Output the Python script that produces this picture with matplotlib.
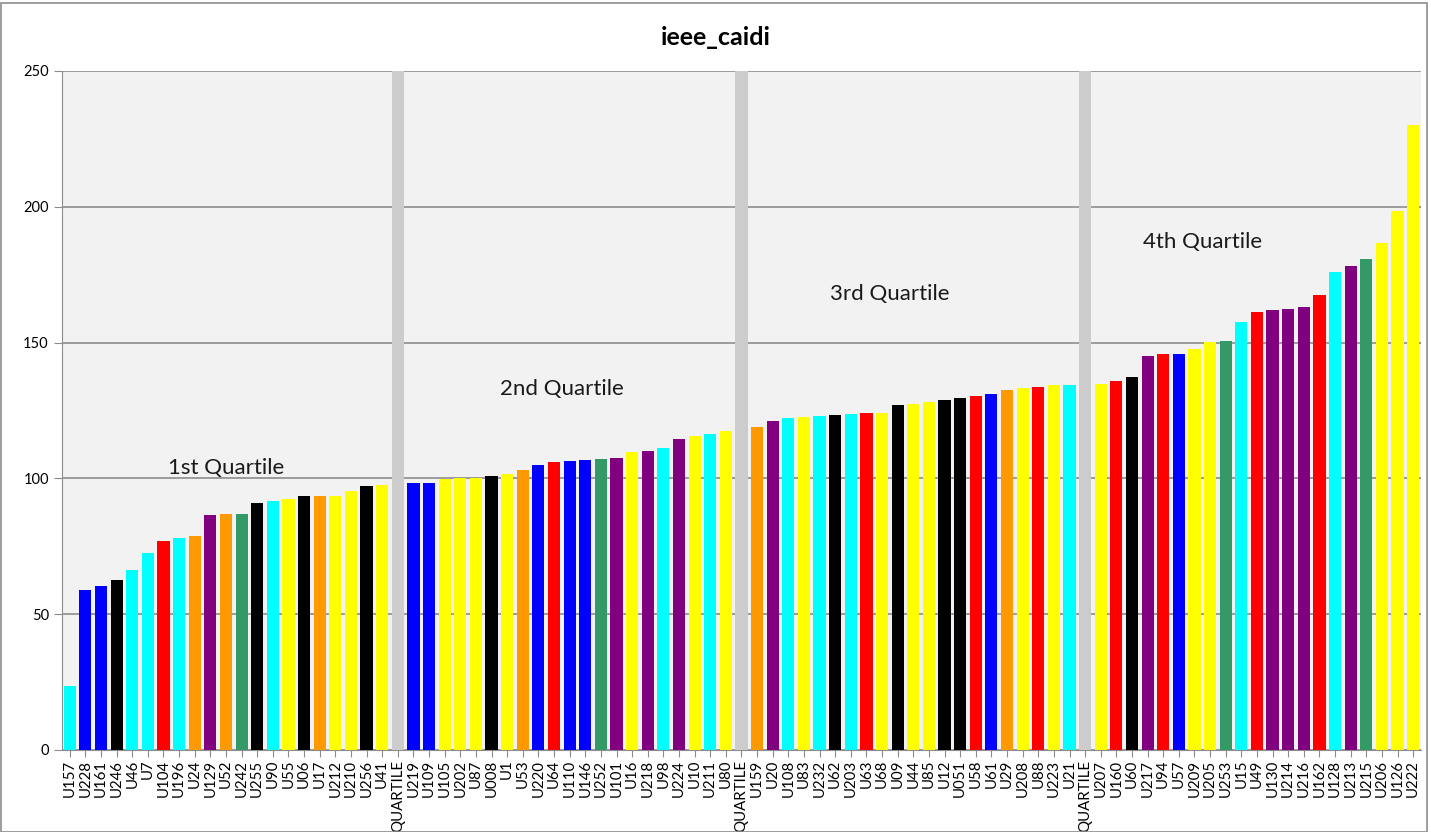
import matplotlib
matplotlib.use("Agg")
from matplotlib import pyplot as plt

plt.rcParams['font.family'] = ['Lato', 'DejaVu Sans']

# utility codes, sorted by caidi, with QUARTILE separators
labels = [
    'U157', 'U228', 'U161', 'U246', 'U46', 'U7', 'U104', 'U196', 'U24', 'U129', 'U52',
    'U242', 'U255', 'U90', 'U55', 'U06', 'U17', 'U212', 'U210', 'U256', 'U41',
    'QUARTILE',
    'U219', 'U109', 'U105', 'U202', 'U87', 'U008', 'U1', 'U53', 'U220', 'U64', 'U110',
    'U146', 'U252', 'U101', 'U16', 'U218', 'U98', 'U224', 'U10', 'U211', 'U80',
    'QUARTILE',
    'U159', 'U20', 'U108', 'U83', 'U232', 'U62', 'U203', 'U63', 'U68', 'U09', 'U44',
    'U85', 'U12', 'U051', 'U58', 'U61', 'U29', 'U208', 'U88', 'U223', 'U21',
    'QUARTILE',
    'U207', 'U160', 'U60', 'U217', 'U94', 'U57', 'U209', 'U205', 'U253', 'U15', 'U49',
    'U130', 'U214', 'U216', 'U162', 'U128', 'U213', 'U215', 'U206', 'U126', 'U222',
]

values = [
    23.4, 59.0, 60.3, 62.5, 66.4, 72.5, 77.0, 77.9, 78.9, 86.5, 86.8,
    87.0, 90.8, 91.7, 92.4, 93.5, 93.5, 93.5, 95.4, 97.2, 97.6,
    250,
    98.2, 98.2, 99.7, 100.3, 100.3, 100.9, 101.7, 103.2, 104.9, 105.9, 106.3,
    106.8, 107.1, 107.4, 109.6, 110.2, 111.2, 114.4, 115.6, 116.3, 117.5,
    250,
    118.9, 121.1, 122.2, 122.6, 122.9, 123.3, 123.7, 124.0, 124.0, 127.0, 127.5,
    128.1, 128.9, 129.5, 130.2, 131.0, 132.7, 133.4, 133.8, 134.5, 134.5,
    250,
    134.8, 135.7, 137.3, 145.2, 145.8, 145.8, 147.8, 150.1, 150.7, 157.5, 161.3,
    162.1, 162.4, 163.0, 167.6, 176.0, 178.3, 180.7, 186.5, 198.3, 230.2,
]

colour_codes = [
    'c', 'b', 'b', 'k', 'c', 'c', 'r', 'c', 'o', 'p', 'o',
    'g', 'k', 'c', 'y', 'k', 'o', 'y', 'y', 'k', 'y',
    'q',
    'b', 'b', 'y', 'y', 'y', 'k', 'y', 'o', 'b', 'r', 'b',
    'b', 'g', 'p', 'y', 'p', 'c', 'p', 'y', 'c', 'y',
    'q',
    'o', 'p', 'c', 'y', 'c', 'k', 'c', 'r', 'y', 'k', 'y',
    'y', 'k', 'k', 'r', 'b', 'o', 'y', 'r', 'y', 'c',
    'q',
    'y', 'r', 'k', 'p', 'r', 'b', 'y', 'y', 'g', 'c', 'r',
    'p', 'p', 'p', 'r', 'c', 'p', 'g', 'y', 'y', 'y',
]

palette = {
    'c': '#00FFFF', 'b': '#0000FF', 'k': '#000000', 'r': '#FF0000',
    'o': '#FF9900', 'p': '#800080', 'g': '#339966', 'y': '#FFFF00',
    'q': '#CCCCCC',
}

quartile_text = ['1st Quartile', '2nd Quartile', '3rd Quartile', '4th Quartile']
quartile_x = [10, 31.5, 52.5, 72.5]
quartile_y = [104, 133, 168, 187]

fig = plt.figure(figsize=(14.31, 8.32), dpi=100)
ax = fig.add_axes([0.0433, 0.0986, 0.9497, 0.8161])
ax.set_facecolor('#F2F2F2')

x = list(range(len(labels)))
ax.bar(x, values, width=0.78, color=[palette[c] for c in colour_codes], zorder=3)

for t, qx, qy in zip(quartile_text, quartile_x, quartile_y):
    ax.text(qx, qy, t, ha='center', va='center', fontsize=16, color='#1a1a1a', zorder=4)

ax.set_xlim(-0.5, len(labels) - 0.5)
ax.set_ylim(0, 250)
ax.set_yticks([0, 50, 100, 150, 200, 250])
ax.yaxis.grid(True, color='#8C8C8C', linewidth=1.2, zorder=1)
ax.set_xticks(x)
ax.set_xticklabels(labels, rotation=90, fontsize=10.8)
ax.tick_params(axis='y', labelsize=10.5, length=6, color='#8C8C8C')
ax.tick_params(axis='x', length=5, color='#8C8C8C', pad=2)
for s in ['top', 'right']:
    ax.spines[s].set_visible(False)
ax.spines['left'].set_color('#8C8C8C')
ax.spines['bottom'].set_color('#8C8C8C')

fig.text(0.5, 0.955, 'ieee_caidi', ha='center', va='center', fontsize=18, fontweight='bold')

# outer chart frame
fig.add_artist(plt.Rectangle((0.0005, 0.0), 0.997, 0.996, transform=fig.transFigure,
                             fill=False, edgecolor='#8C8C8C', linewidth=1.2))

fig.savefig('out.png', dpi=100)
